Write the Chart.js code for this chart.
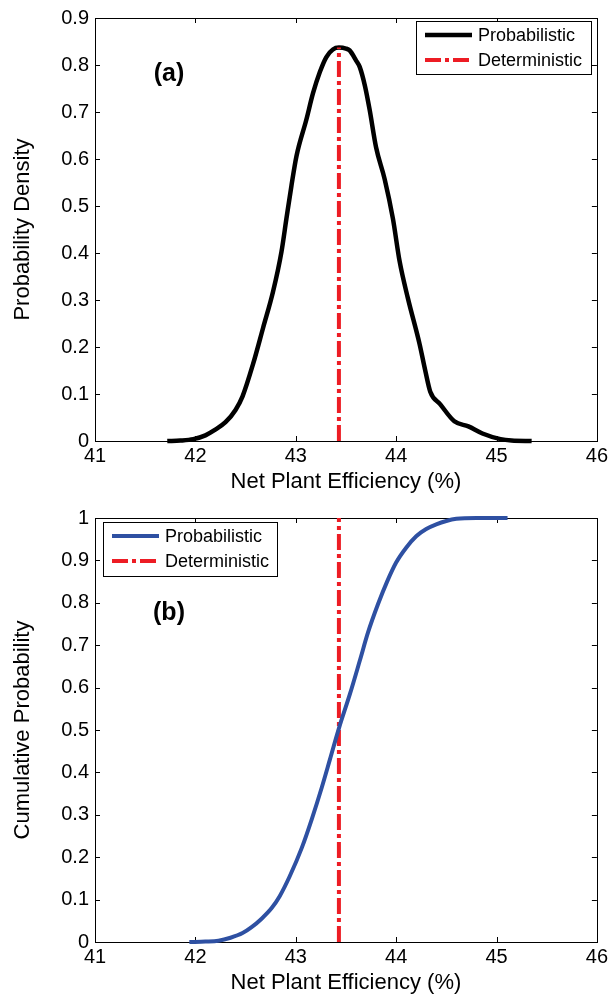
<!DOCTYPE html>
<html><head><meta charset="utf-8">
<script src="https://cdn.jsdelivr.net/npm/chart.js@4.4.1/dist/chart.umd.min.js"></script>
<style>
html,body{margin:0;padding:0;background:#fff;width:611px;height:997px;overflow:hidden}
.box{position:absolute;left:0;width:611px}
#wa{top:0;height:500px}
#wb{top:500px;height:497px}
canvas{display:block}
</style></head><body>
<div class="box" id="wa"><canvas id="ca"></canvas></div>
<div class="box" id="wb"><canvas id="cb"></canvas></div>
<script>
// ---- data ----
const xTickLabels = ['41','42','43','44','45','46'];
const yTickLabelsA = ['0','0.1','0.2','0.3','0.4','0.5','0.6','0.7','0.8','0.9'];
const yTickLabelsB = ['0','0.1','0.2','0.3','0.4','0.5','0.6','0.7','0.8','0.9','1'];
const seriesNames = ['Probabilistic','Deterministic'];

// (a) probability density
const pdfX = [41.72, 41.85, 41.98, 42.10, 42.19, 42.30, 42.40, 42.47, 42.575, 42.675, 42.774, 42.858, 42.907, 42.957, 43.007, 43.106, 43.172, 43.24, 43.305, 43.37, 43.43, 43.50, 43.537, 43.60, 43.637, 43.69, 43.736, 43.80, 43.886, 43.968, 44.035, 44.117, 44.234, 44.29, 44.34, 44.44, 44.58, 44.72, 44.86, 45.04, 45.15, 45.35];
const pdfY = [0, 0.001, 0.004, 0.012, 0.023, 0.040, 0.066, 0.095, 0.164, 0.241, 0.318, 0.403, 0.473, 0.543, 0.606, 0.684, 0.740, 0.785, 0.817, 0.833, 0.837, 0.835, 0.831, 0.810, 0.796, 0.755, 0.705, 0.625, 0.557, 0.473, 0.382, 0.304, 0.206, 0.150, 0.105, 0.078, 0.042, 0.031, 0.016, 0.004, 0.001, 0];

// (b) cumulative probability
const cdfX = [41.94, 42.10, 42.23, 42.35, 42.47, 42.56, 42.66, 42.76, 42.84, 42.94, 43.06, 43.16, 43.26, 43.34, 43.43, 43.54, 43.64, 43.72, 43.82, 43.91, 44.00, 44.10, 44.20, 44.30, 44.40, 44.50, 44.60, 44.80, 45.11];
const cdfY = [0, 0.001, 0.003, 0.010, 0.021, 0.035, 0.055, 0.080, 0.108, 0.155, 0.222, 0.290, 0.365, 0.430, 0.504, 0.585, 0.665, 0.730, 0.797, 0.850, 0.895, 0.930, 0.957, 0.974, 0.985, 0.993, 0.998, 1.0, 1.0];

// deterministic value
const detX = [43.43, 43.43];
const detYA = [0, 0.837];
const detYB = [0, 1];

// ---- helpers ----
const FONT = '"Liberation Sans", Arial, Helvetica, sans-serif';
const pts = (xs, ys) => xs.map((x, i) => ({x, y: ys[i]}));
const RED = '#ED1C24', BLACK = '#000000', BLUE = '#2E50A2';
const DASH = [16, 4, 4, 4];

const framePlugin = {
  id: 'mframe',
  beforeDatasetsDraw(chart) {
    const {ctx, chartArea: a, scales} = chart;
    ctx.save();
    ctx.strokeStyle = '#000'; ctx.lineWidth = 1;
    ctx.strokeRect(Math.round(a.left) + 0.5, Math.round(a.top) + 0.5, Math.round(a.right - a.left), Math.round(a.bottom - a.top));
    const tl = 5;
    ctx.beginPath();
    scales.x.ticks.forEach(t => {
      const px = Math.round(scales.x.getPixelForValue(t.value)) + 0.5;
      ctx.moveTo(px, a.bottom); ctx.lineTo(px, a.bottom - tl);
      ctx.moveTo(px, a.top); ctx.lineTo(px, a.top + tl);
    });
    scales.y.ticks.forEach(t => {
      const py = Math.round(scales.y.getPixelForValue(t.value)) + 0.5;
      ctx.moveTo(a.left, py); ctx.lineTo(a.left + tl, py);
      ctx.moveTo(a.right, py); ctx.lineTo(a.right - tl, py);
    });
    ctx.stroke();
    ctx.restore();
  },
  afterDraw(chart, args, opts) {
    const {ctx} = chart;
    ctx.save();
    // panel label
    ctx.font = 'bold 25px ' + FONT;
    ctx.fillStyle = '#000'; ctx.textAlign = 'center'; ctx.textBaseline = 'middle';
    ctx.fillText(opts.panel.text, opts.panel.x, opts.panel.y);
    // legend
    const L = opts.legend;
    ctx.fillStyle = '#fff';
    ctx.fillRect(L.x, L.y, L.w, L.h);
    ctx.strokeStyle = '#000'; ctx.lineWidth = 1;
    ctx.strokeRect(Math.round(L.x) + 0.5, Math.round(L.y) + 0.5, L.w, L.h);
    ctx.font = '18px ' + FONT;
    ctx.textAlign = 'left'; ctx.textBaseline = 'middle';
    const rows = [L.y + 14, L.y + 39];
    chart.data.datasets.forEach((ds, i) => {
      const yy = rows[i];
      ctx.beginPath();
      ctx.strokeStyle = ds.borderColor; ctx.lineWidth = ds.borderWidth;
      ctx.setLineDash(ds.borderDash || []);
      ctx.moveTo(L.x + 9, yy); ctx.lineTo(L.x + 56, yy);
      ctx.stroke();
      ctx.setLineDash([]);
      ctx.fillStyle = '#000';
      ctx.fillText(ds.label, L.x + 62, yy + 1);
    });
    ctx.restore();
  }
};

function makeChart(id, cfg) {
  return new Chart(document.getElementById(id), {
    type: 'scatter',
    data: {datasets: cfg.datasets},
    options: {
      responsive: true, maintainAspectRatio: false, animation: false, devicePixelRatio: 1,
      layout: {padding: {left: 0, right: 13.5, top: cfg.padTop, bottom: 0}},
      plugins: {legend: {display: false}, tooltip: {enabled: false}, mframe: cfg.mframe},
      elements: {point: {radius: 0}},
      scales: {
        x: {
          type: 'linear', min: 41, max: 46,
          afterFit: s => { s.height = cfg.xHeight; },
          afterBuildTicks: s => { s.ticks = xTickLabels.map(v => ({value: Number(v)})); },
          grid: {display: false, drawTicks: false}, border: {display: false},
          ticks: {padding: 3, color: '#000', font: {family: FONT, size: 20}, autoSkip: false, maxRotation: 0,
                  callback: (v, i) => xTickLabels[i]},
          title: {display: true, text: 'Net Plant Efficiency (%)', color: '#000',
                  font: {family: FONT, size: 22}, padding: {top: 0, bottom: cfg.xTitlePad}}
        },
        y: {
          type: 'linear', min: 0, max: cfg.yMax,
          afterFit: s => { s.width = 95; },
          afterBuildTicks: s => { s.ticks = cfg.yLabels.map(v => ({value: Number(v)})); },
          grid: {display: false, drawTicks: false}, border: {display: false},
          ticks: {padding: 6, color: '#000', font: {family: FONT, size: 20}, autoSkip: false,
                  callback: (v, i) => cfg.yLabels[i]},
          title: {display: true, text: cfg.yTitle, color: '#000',
                  font: {family: FONT, size: 22}, padding: {top: 10, bottom: 0}}
        }
      }
    },
    plugins: [framePlugin]
  });
}

makeChart('ca', {
  padTop: 14, xHeight: 59, xTitlePad: 5, yMax: 0.9, yLabels: yTickLabelsA,
  yTitle: 'Probability Density',
  datasets: [
    {label: seriesNames[0], data: pts(pdfX, pdfY), showLine: true, borderColor: BLACK, borderWidth: 4.5,
     cubicInterpolationMode: 'monotone', clip: false, order: 1, borderJoinStyle: 'round', borderCapStyle: 'butt'},
    {label: seriesNames[1], data: pts(detX, detYA), showLine: true, borderColor: RED, borderWidth: 4,
     borderDash: DASH, clip: false, order: 0}
  ],
  mframe: {panel: {text: '(a)', x: 169, y: 74}, legend: {x: 416, y: 21, w: 175, h: 53}}
});

makeChart('cb', {
  padTop: 15, xHeight: 55, xTitlePad: 1, yMax: 1, yLabels: yTickLabelsB,
  yTitle: 'Cumulative Probability',
  datasets: [
    {label: seriesNames[0], data: pts(cdfX, cdfY), showLine: true, borderColor: BLUE, borderWidth: 4,
     cubicInterpolationMode: 'monotone', clip: false, order: 0, borderJoinStyle: 'round'},
    {label: seriesNames[1], data: pts(detX, detYB), showLine: true, borderColor: RED, borderWidth: 4,
     borderDash: DASH, clip: false, order: 1}
  ],
  mframe: {panel: {text: '(b)', x: 169, y: 113}, legend: {x: 103, y: 22, w: 174, h: 54}}
});
</script>
</body></html>
